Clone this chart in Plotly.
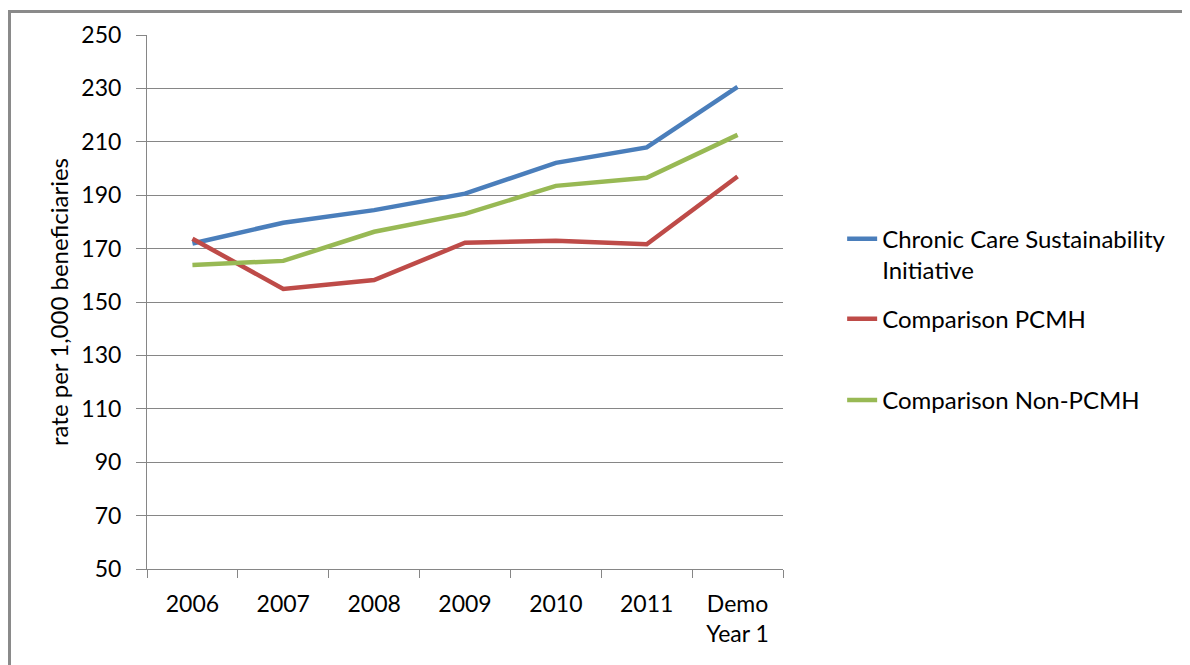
import plotly.graph_objects as go

# ── Data ──
categories = ['2006', '2007', '2008', '2009', '2010', '2011', 'Demo<br>Year 1']
ccsi = [171.9, 179.7, 184.4, 190.6, 202.1, 207.9, 230.6]
pcmh = [173.7, 154.9, 158.2, 172.2, 172.9, 171.6, 197.0]
non_pcmh = [163.9, 165.4, 176.3, 183.0, 193.5, 196.5, 212.6]
y_ticks = list(range(50, 251, 20))

series = [
    ('Chronic Care Sustainability<br>Initiative', ccsi, '#4a7ebb', 'legend'),
    ('Comparison PCMH', pcmh, '#be4b48', 'legend2'),
    ('Comparison Non-PCMH', non_pcmh, '#98b954', 'legend3'),
]

FONT = 'Lato, Carlito, Calibri, sans-serif'
GRID = '#868686'

fig = go.Figure()
for name, vals, color, leg in series:
    fig.add_trace(go.Scatter(
        x=categories, y=vals, mode='lines', name=name,
        line=dict(color=color, width=4.5),
        legend=leg, showlegend=True,
    ))

# one legend per series so the entries sit where the original has them
leg_common = dict(
    font=dict(family=FONT, size=24, color='#000000'),
    bgcolor='rgba(0,0,0,0)', borderwidth=0,
    xanchor='left', yanchor='top', valign='top',
    visible=True,
)
fig.update_layout(
    showlegend=True,
    legend=dict(x=1.093, y=0.660, **leg_common),
    legend2=dict(x=1.093, y=0.510, **leg_common),
    legend3=dict(x=1.093, y=0.358, **leg_common),
)

# outer frame (only top and left edges are visible)
fig.add_shape(type='line', xref='paper', yref='paper',
              x0=-0.2186, x1=1.7, y0=1.0438, y1=1.0438,
              line=dict(color='#8a8a8a', width=3))
fig.add_shape(type='line', xref='paper', yref='paper',
              x0=-0.2162, x1=-0.2162, y0=-0.3, y1=1.0466,
              line=dict(color='#8a8a8a', width=3))

fig.update_layout(
    width=1182, height=657,
    paper_bgcolor='white', plot_bgcolor='white',
    margin=dict(l=139, r=407, t=25, b=96),
    font=dict(family=FONT, size=23, color='#000000'),
    xaxis=dict(
        type='category', tickson='boundaries',
        ticks='outside', ticklen=8, tickcolor=GRID, tickwidth=1,
        showline=True, linecolor=GRID, linewidth=1,
        showgrid=False, zeroline=False,
        tickfont=dict(family=FONT, size=23),
        ticklabelstandoff=14,
        range=[-0.5, 6.5],
    ),
    yaxis=dict(
        range=[50, 250], tickvals=y_ticks,
        ticks='outside', ticklen=10, tickcolor=GRID, tickwidth=1,
        showline=True, linecolor=GRID, linewidth=1,
        showgrid=True, gridcolor=GRID, gridwidth=1,
        zeroline=False,
        tickfont=dict(family=FONT, size=23),
        ticklabelstandoff=10,
        title=dict(text='rate per 1,000 beneficiaries',
                   font=dict(family=FONT, size=24), standoff=5),
    ),
)

fig.write_html('out.html')
